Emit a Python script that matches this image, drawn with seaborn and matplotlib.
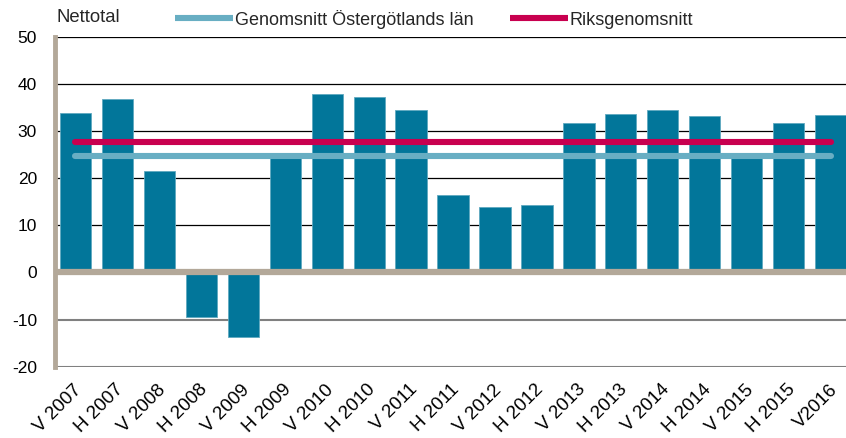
"""Nettotal per halvår, Östergötlands län, med genomsnittslinjer."""
import matplotlib
matplotlib.use("Agg")
import matplotlib.pyplot as plt
import seaborn as sns
import pandas as pd

periods = ["V 2007", "H 2007", "V 2008", "H 2008", "V 2009", "H 2009",
           "V 2010", "H 2010", "V 2011", "H 2011", "V 2012", "H 2012",
           "V 2013", "H 2013", "V 2014", "H 2014", "V 2015", "H 2015", "V2016"]
nettotal = [33.9, 36.8, 21.6, -9.4, -13.7, 24.5,
            37.8, 37.3, 34.5, 16.5, 14.0, 14.4,
            31.8, 33.7, 34.4, 33.3, 24.5, 31.7, 33.5]
avg_ostergotland = 24.7
avg_riket = 27.7
yticks = [-20, -10, 0, 10, 20, 30, 40, 50]

BAR = "#02769A"
LIGHT = "#68AEC3"
CRIMSON = "#C8004F"
AXIS = "#B3A899"

df = pd.DataFrame({"period": periods, "nettotal": nettotal})

sns.set_theme(style="white")
plt.rcParams["font.family"] = ["Liberation Sans", "DejaVu Sans"]
plt.rcParams["axes.unicode_minus"] = False

fig = plt.figure(figsize=(8.46, 4.38), dpi=100)
ax = fig.add_axes([0.065, 0.163, 0.935, 0.7525])

sns.barplot(data=df, x="period", y="nettotal", color=BAR, saturation=1,
            width=0.74, edgecolor="#5FA9C0", linewidth=0.6, ax=ax, zorder=2)

n = len(periods)
ax.hlines(avg_ostergotland, 0, n - 1, color=LIGHT, linewidth=4.4,
          capstyle="round", zorder=4, label="Genomsnitt Östergötlands län")
ax.hlines(avg_riket, 0, n - 1, color=CRIMSON, linewidth=4.4,
          capstyle="round", zorder=4, label="Riksgenomsnitt")

ax.set_ylim(-20, 50)
ax.set_xlim(-0.48, n - 1 + 0.36)
ax.set_yticks(yticks)
for t in yticks:
    if t == 0:
        continue
    col, lw = ("black", 0.9) if t > 0 else ("#808080", 1.5)
    ax.axhline(t, color=col, linewidth=lw, zorder=1)
ax.axhline(0, color=AXIS, linewidth=4.5, zorder=3)

for side in ["top", "right", "bottom"]:
    ax.spines[side].set_visible(False)
ax.spines["left"].set_color(AXIS)
ax.spines["left"].set_linewidth(3.5)

ax.set_xlabel("")
ax.set_ylabel("")
ax.tick_params(axis="y", length=0, pad=13, labelsize=12.5, colors="black")
ax.tick_params(axis="x", length=0, pad=4, labelsize=13.5, colors="black")
plt.setp(ax.get_xticklabels(), rotation=45, ha="right", va="center",
         rotation_mode="anchor")
for lbl in ax.get_xticklabels():
    lbl.set_transform(lbl.get_transform() +
                      matplotlib.transforms.ScaledTranslation(0.04, -0.15, fig.dpi_scale_trans))

fig.text(56 / 846, 1 - 18 / 438, "Nettotal", fontsize=13.3, va="center", ha="left")

ax.legend(loc="center left", bbox_to_anchor=(120 / 791, 1 + 18 / 329.5),
          ncol=2, frameon=False, fontsize=13, handlelength=3.2,
          handletextpad=0.1, columnspacing=2.05, borderaxespad=0, borderpad=0)

fig.savefig("out.png", dpi=100)
